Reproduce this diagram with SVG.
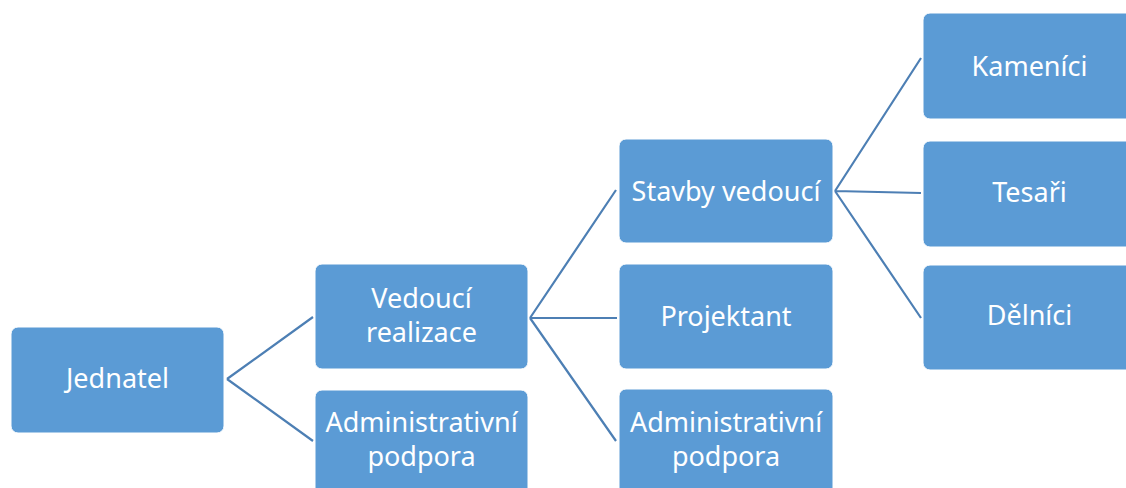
<svg xmlns="http://www.w3.org/2000/svg" width="1126" height="488" viewBox="0 0 1126 488">
<style>
.box{fill:#5b9bd5;stroke:#ffffff;stroke-width:1}
.t{font-family:"Noto Sans","Liberation Sans",sans-serif;font-size:27px;fill:#ffffff;text-anchor:middle}
.c{stroke:#4d7fb4;stroke-width:2.2;fill:none}
</style>
<rect width="1126" height="488" fill="#ffffff"/>
<g id="connectors">
<path class="c" d="M227 379 L313 317 M227 379 L313 441"/>
<path class="c" d="M530 318 L616 190 M530 318 L617 318 M530 318 L616 441"/>
<path class="c" d="M835 191 L921 58 M835 191 L921 193 M835 191 L921 318"/>
</g>
<g id="n-jednatel"><rect class="box" x="11" y="327" width="213" height="106" rx="7"/><text class="t" x="117.5" y="388">Jednatel</text></g>
<g id="n-vedouci-realizace"><rect class="box" x="315" y="264" width="213" height="105" rx="7"/><text class="t" x="421.5" y="308">Vedoucí</text><text class="t" x="421.5" y="342">realizace</text></g>
<g id="n-admin1"><rect class="box" x="315" y="390" width="213" height="106" rx="7"/><text class="t" x="421.5" y="432">Administrativní</text><text class="t" x="421.5" y="466">podpora</text></g>
<g id="n-stavby"><rect class="box" x="619" y="139" width="214" height="104" rx="7"/><text class="t" x="726" y="201">Stavby vedoucí</text></g>
<g id="n-projektant"><rect class="box" x="619" y="264" width="214" height="105" rx="7"/><text class="t" x="726" y="326">Projektant</text></g>
<g id="n-admin2"><rect class="box" x="619" y="389" width="214" height="106" rx="7"/><text class="t" x="726" y="432">Administrativní</text><text class="t" x="726" y="466">podpora</text></g>
<g id="n-kamenici"><rect class="box" x="923" y="13" width="213" height="106" rx="7"/><text class="t" x="1029.5" y="76">Kameníci</text></g>
<g id="n-tesari"><rect class="box" x="923" y="141" width="213" height="106" rx="7"/><text class="t" x="1029.5" y="202">Tesaři</text></g>
<g id="n-delnici"><rect class="box" x="923" y="265" width="213" height="105" rx="7"/><text class="t" x="1029.5" y="325">Dělníci</text></g>
</svg>
